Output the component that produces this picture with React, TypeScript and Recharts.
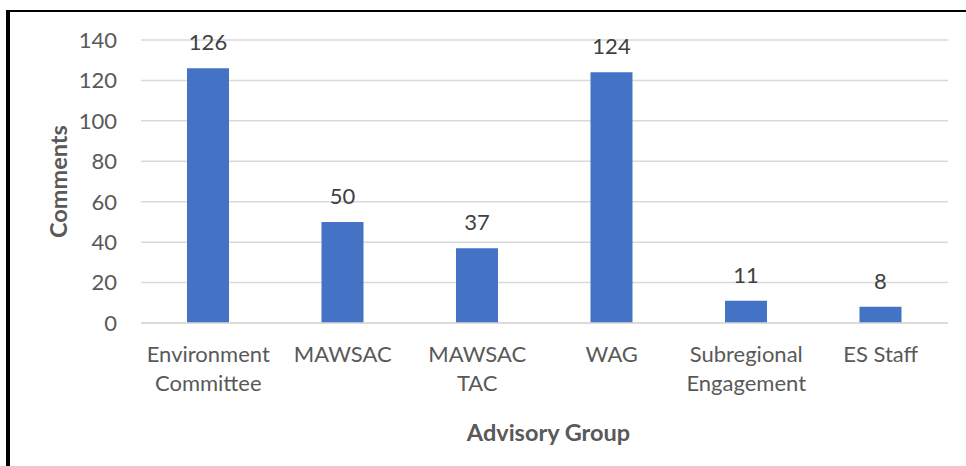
import React from 'react';
import { BarChart, Bar, XAxis, YAxis, CartesianGrid, LabelList, Label } from 'recharts';

const categories = ['Environment Committee', 'MAWSAC', 'MAWSAC TAC', 'WAG', 'Subregional Engagement', 'ES Staff'];
const categoryLines: string[][] = [
  ['Environment', 'Committee'],
  ['MAWSAC'],
  ['MAWSAC', 'TAC'],
  ['WAG'],
  ['Subregional', 'Engagement'],
  ['ES Staff'],
];
const comments = [126, 50, 37, 124, 11, 8];
const yTicks = [0, 20, 40, 60, 80, 100, 120, 140];

const data = categories.map((c, i) => ({ name: c, value: comments[i], idx: i }));

const FONT = 'Lato, "Open Sans", sans-serif';

const XTick = (props: any) => {
  const { x, y, index } = props;
  const lines = categoryLines[index] || [String(props.payload.value)];
  return (
    <text x={x} y={y} textAnchor="middle" fill="#595959" fontSize={22} fontFamily={FONT}>
      {lines.map((l, i) => (
        <tspan key={i} x={x} dy={i === 0 ? 38.5 : 29.5}>
          {l}
        </tspan>
      ))}
    </text>
  );
};

const YTitle = (props: any) => {
  const vb = props.viewBox;
  const cx = vb.x + 57.5;
  const cy = vb.y + vb.height / 2;
  return (
    <text
      x={cx}
      y={cy}
      transform={`rotate(-90 ${cx} ${cy})`}
      textAnchor="middle"
      dominantBaseline="central"
      fill="#595959"
      fontSize={23.5}
      fontWeight="bold"
      fontFamily={FONT}
    >
      Comments
    </text>
  );
};

const XTitle = (props: any) => {
  const vb = props.viewBox;
  const cx = vb.x + vb.width / 2 + 4;
  return (
    <text x={cx} y={vb.y + 118} textAnchor="middle" fill="#595959" fontSize={23.5} fontWeight="bold" fontFamily={FONT}>
      Advisory Group
    </text>
  );
};

export default function App() {
  return (
    <div style={{ position: 'absolute', left: 0, top: 0, width: 966, height: 466, background: '#fff', overflow: 'hidden' }}>
      <div
        style={{
          position: 'absolute',
          left: 6,
          top: 10,
          width: 1100,
          height: 600,
          borderLeft: '4px solid #000',
          borderTop: '2px solid #000',
          boxSizing: 'border-box',
        }}
      />
      <div style={{ position: 'absolute', left: 0, top: 0 }}>
        <BarChart width={966} height={466} data={data} margin={{ top: 40, right: 18, bottom: 0, left: 0 }} barSize={42}>
          <CartesianGrid vertical={false} stroke="#d9d9d9" strokeWidth={1.5} />
          <XAxis
            dataKey="name"
            height={143}
            interval={0}
            tickLine={false}
            tickSize={0}
            tickMargin={0}
            axisLine={{ stroke: '#d9d9d9', strokeWidth: 1.5 }}
            tick={<XTick />}
          >
            <Label content={<XTitle />} />
          </XAxis>
          <YAxis
            width={141}
            domain={[0, 140]}
            ticks={yTicks}
            interval={0}
            axisLine={false}
            tickLine={false}
            tickSize={0}
            tickMargin={24}
            tick={{ fill: '#595959', fontSize: 22, fontFamily: FONT }}
          >
            <Label content={<YTitle />} />
          </YAxis>
          <Bar dataKey="value" fill="#4472C4" isAnimationActive={false}>
            <LabelList dataKey="value" position="top" offset={18} fill="#404040" fontSize={22} fontFamily={FONT} />
          </Bar>
        </BarChart>
      </div>
    </div>
  );
}
